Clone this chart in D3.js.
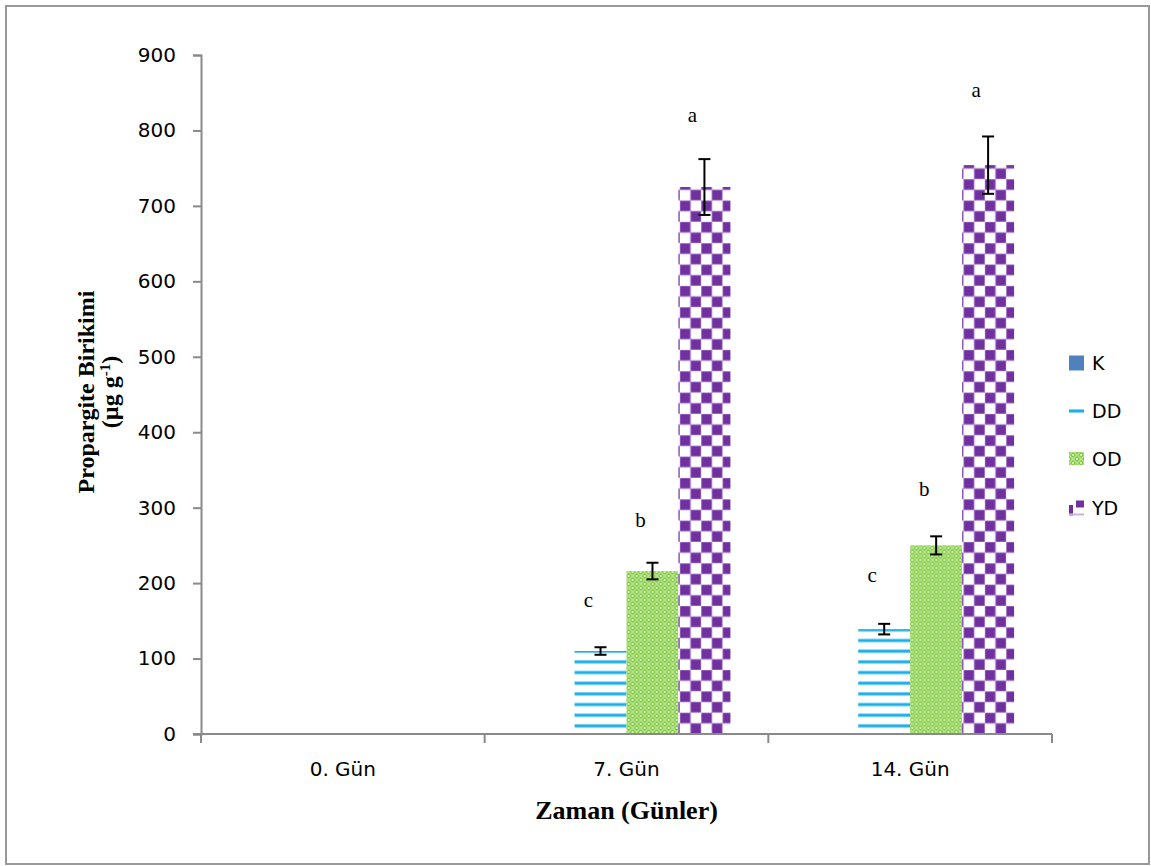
<!DOCTYPE html>
<html>
<head>
<meta charset="utf-8">
<script src="https://cdn.jsdelivr.net/npm/d3@7"></script>
<style>
  html, body { margin: 0; padding: 0; background: #fff; }
  svg { display: block; }
</style>
</head>
<body>
<svg id="chart" width="1151" height="866"></svg>
<script>
// ---- data ----
const categories = ["0. Gün", "7. Gün", "14. Gün"];
const seriesNames = ["K", "DD", "OD", "YD"];
const valuesK  = [0, 0, 0];
const valuesDD = [0, 110, 139];
const valuesOD = [0, 216, 250];
const valuesYD = [0, 725, 754];
const errorsDD = [0, 5, 7];
const errorsOD = [0, 11, 12];
const errorsYD = [0, 37, 38];
const lettersDD = ["", "c", "c"];
const lettersOD = ["", "b", "b"];
const lettersYD = ["", "a", "a"];
const letterPosDD = [0, 168, 201];
const letterPosOD = [0, 274, 315];
const letterPosYD = [0, 811, 844];
const yTicks = [0, 100, 200, 300, 400, 500, 600, 700, 800, 900];

const values = { K: valuesK, DD: valuesDD, OD: valuesOD, YD: valuesYD };
const errors = { K: [0,0,0], DD: errorsDD, OD: errorsOD, YD: errorsYD };
const letters = { K: ["","",""], DD: lettersDD, OD: lettersOD, YD: lettersYD };
const letterPos = { K: [0,0,0], DD: letterPosDD, OD: letterPosOD, YD: letterPosYD };

const svg = d3.select("#chart");
const defs = svg.append("defs");

// Outer border
svg.append("rect").attr("x", 6).attr("y", 6).attr("width", 1143).attr("height", 858)
  .attr("fill", "#fff").attr("stroke", "#999").attr("stroke-width", 2);

// ---- patterns ----
// DD: horizontal blue stripes
const pDD = defs.append("pattern").attr("id", "pDD").attr("patternUnits", "userSpaceOnUse")
  .attr("width", 16).attr("height", 10.67).attr("y", 9);
pDD.append("rect").attr("width", 16).attr("height", 10.67).attr("fill", "#fff");
pDD.append("rect").attr("y", 0).attr("width", 16).attr("height", 4).attr("fill", "#9EDDF7");
pDD.append("rect").attr("y", 0.8).attr("width", 16).attr("height", 2.4).attr("fill", "#1AAEEB");

// OD: green lattice
const pOD = defs.append("pattern").attr("id", "pOD").attr("patternUnits", "userSpaceOnUse")
  .attr("width", 8).attr("height", 8);
pOD.append("rect").attr("width", 8).attr("height", 8).attr("fill", "#86CB45");
pOD.append("path").attr("d", "M0,4 L4,0 L8,4 L4,8 Z").attr("fill", "none")
  .attr("stroke", "#BDE69A").attr("stroke-width", 1.2);
[[4,4],[0,0],[8,8],[0,8],[8,0]].forEach(([cx, cy]) => {
  pOD.append("circle").attr("cx", cx).attr("cy", cy).attr("r", 1.1).attr("fill", "#E2F4D0");
});

// YD: purple checkerboard
const sq = 10.67;
const pYD = defs.append("pattern").attr("id", "pYD").attr("patternUnits", "userSpaceOnUse")
  .attr("width", sq * 2).attr("height", sq * 2).attr("x", 686).attr("y", 734 - sq * 2 * 20);
pYD.append("rect").attr("width", sq * 2).attr("height", sq * 2).attr("fill", "#fff");
pYD.append("rect").attr("x", 0).attr("y", 0).attr("width", sq).attr("height", sq)
  .attr("fill", "#7030A0").attr("stroke", "#B795D2").attr("stroke-width", 0.8);
pYD.append("rect").attr("x", sq).attr("y", sq).attr("width", sq).attr("height", sq)
  .attr("fill", "#7030A0").attr("stroke", "#B795D2").attr("stroke-width", 0.8);

const fills = { K: "#4F81BD", DD: "url(#pDD)", OD: "url(#pOD)", YD: "url(#pYD)" };

// ---- scales ----
const x0 = d3.scaleBand().domain(categories).range([201, 1052]).padding(0);
const x1 = d3.scaleBand().domain(seriesNames).range([0, x0.bandwidth()]).paddingInner(0).paddingOuter(0.73);
const y = d3.scaleLinear().domain([0, 900]).range([734, 55]);

const axisColor = "#8A8A8A";

// Y axis
const yAxis = d3.axisLeft(y).tickValues(yTicks).tickSize(8).tickPadding(17);
const gy = svg.append("g").attr("transform", "translate(201,0)").call(yAxis);
gy.select(".domain").attr("stroke", axisColor).attr("stroke-width", 2);
gy.selectAll(".tick line").attr("stroke", axisColor).attr("stroke-width", 2);
gy.selectAll(".tick text").attr("fill", "#000")
  .style("font-family", "'DejaVu Sans', sans-serif").style("font-size", "20px");

// Bars
const groups = svg.append("g").selectAll("g").data(categories).join("g")
  .attr("transform", d => `translate(${x0(d)},0)`);

seriesNames.forEach(s => {
  groups.append("rect")
    .attr("x", (d, i) => x1(s))
    .attr("y", (d, i) => y(values[s][i]))
    .attr("width", x1.bandwidth())
    .attr("height", (d, i) => y(0) - y(values[s][i]))
    .attr("fill", fills[s]);
});

// X axis (drawn over bars)
const gx = svg.append("g");
gx.append("line").attr("x1", 193).attr("x2", x0.range()[1]).attr("y1", y(0)).attr("y2", y(0))
  .attr("stroke", axisColor).attr("stroke-width", 2);
const boundaries = categories.map(c => x0(c)).concat([x0(categories[2]) + x0.bandwidth()]);
gx.selectAll("line.tk").data(boundaries).join("line").attr("class", "tk")
  .attr("x1", d => d).attr("x2", d => d).attr("y1", y(0)).attr("y2", y(0) + 9)
  .attr("stroke", axisColor).attr("stroke-width", 2);
gx.selectAll("text.lbl").data(categories).join("text").attr("class", "lbl")
  .attr("x", d => x0(d) + x0.bandwidth() / 2).attr("y", y(0) + 42)
  .attr("text-anchor", "middle")
  .style("font-family", "'DejaVu Sans', sans-serif").style("font-size", "20px")
  .text(d => d);

// Error bars and letters
seriesNames.forEach(s => {
  groups.each(function(d, i) {
    const g = d3.select(this);
    const e = errors[s][i];
    const cx = x1(s) + x1.bandwidth() / 2;
    if (e > 0) {
      const v = values[s][i];
      g.append("line").attr("x1", cx).attr("x2", cx).attr("y1", y(v + e)).attr("y2", y(v - e))
        .attr("stroke", "#000").attr("stroke-width", 2);
      [v + e, v - e].forEach(t => {
        g.append("line").attr("x1", cx - 6).attr("x2", cx + 6).attr("y1", y(t)).attr("y2", y(t))
          .attr("stroke", "#000").attr("stroke-width", 2);
      });
    }
    if (letters[s][i]) {
      g.append("text").attr("x", cx - 12).attr("y", y(letterPos[s][i]))
        .attr("text-anchor", "middle")
        .style("font-family", "'Liberation Serif', 'Times New Roman', serif").style("font-size", "21px")
        .text(letters[s][i]);
    }
  });
});

// Axis titles
svg.append("text").attr("x", x0(categories[1]) + x0.bandwidth() / 2).attr("y", 819)
  .attr("text-anchor", "middle")
  .style("font-family", "'Liberation Serif', 'Times New Roman', serif").style("font-size", "26px")
  .style("font-weight", "bold").text("Zaman (Günler)");

const yt = svg.append("text").attr("transform", "translate(94,392) rotate(-90)")
  .attr("text-anchor", "middle")
  .style("font-family", "'Liberation Serif', 'Times New Roman', serif").style("font-size", "24px")
  .style("font-weight", "bold");
yt.append("tspan").attr("x", 0).attr("y", 0).text("Propargite Birikimi");
const t2 = yt.append("tspan").attr("x", 0).attr("dy", 24).text("(µg g");
t2.append("tspan").attr("baseline-shift", "super").style("font-size", "15px").text("-1");
yt.append("tspan").text(")");

// Legend
const legend = svg.append("g").attr("transform", "translate(1069,0)");
const legY = [363, 411, 459, 508];
seriesNames.forEach((s, i) => {
  const g = legend.append("g").attr("transform", `translate(0,${legY[i]})`);
  if (s === "K") {
    g.append("rect").attr("x", 0).attr("y", -7.5).attr("width", 15).attr("height", 15).attr("fill", "#4F81BD");
  } else if (s === "DD") {
    g.append("rect").attr("x", 0).attr("y", -2).attr("width", 15).attr("height", 4).attr("fill", "#9EDDF7");
    g.append("rect").attr("x", 0).attr("y", -1.2).attr("width", 15).attr("height", 2.4).attr("fill", "#1AAEEB");
  } else if (s === "OD") {
    g.append("rect").attr("x", 0).attr("y", -7).attr("width", 15).attr("height", 13).attr("fill", "url(#pOD)");
  } else {
    g.append("rect").attr("x", 0).attr("y", -7.5).attr("width", 15).attr("height", 15).attr("fill", "#fff");
    g.append("rect").attr("x", 7).attr("y", -7.5).attr("width", 8).attr("height", 7).attr("fill", "#7030A0");
    g.append("rect").attr("x", 0).attr("y", -3).attr("width", 4).attr("height", 10.5).attr("fill", "#7030A0");
    g.append("rect").attr("x", 0).attr("y", 5.5).attr("width", 15).attr("height", 2).attr("fill", "#C9B3DD");
  }
  g.append("text").attr("x", 23).attr("y", 0).attr("dy", "0.35em")
    .style("font-family", "'DejaVu Sans', sans-serif").style("font-size", "19px")
    .text(s);
});
</script>
</body>
</html>
